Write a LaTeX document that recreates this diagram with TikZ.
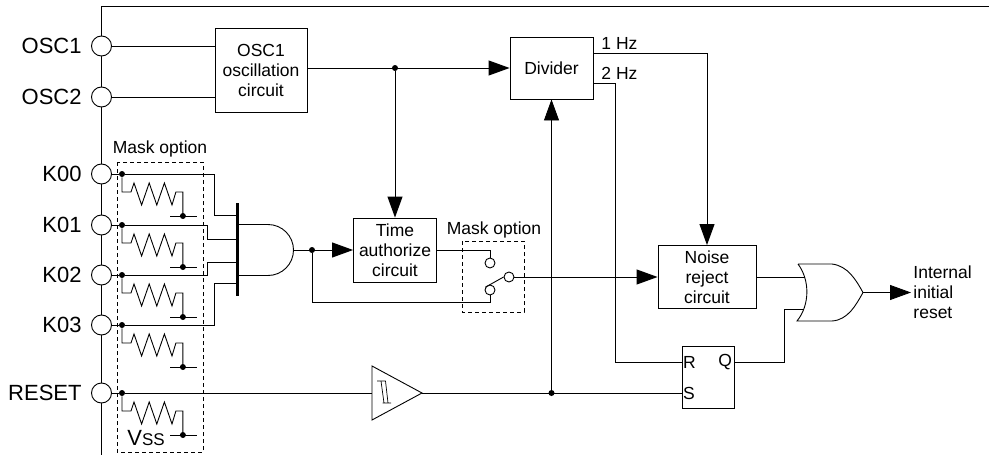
\documentclass[tikz,border=0pt]{standalone}
\usepackage{fontspec}
\setmainfont{Liberation Sans}
\usetikzlibrary{calc,positioning,arrows.meta}

\begin{document}
\begin{tikzpicture}[x=1pt, y=-1pt, line width=0.9pt, font=\fontsize{17.5}{20}\selectfont]
\tikzstyle{blk}=[draw, rectangle, inner sep = 0pt, align=center]
\tikzstyle{pad}=[draw, circle, fill=white, minimum size=20pt, inner sep = 0pt]
\tikzstyle{sw}=[draw, circle, fill=white, minimum size=10pt, inner sep = 0pt]
\tikzstyle{dot}=[fill, circle, minimum size=6pt, inner sep = 0pt]
\tikzstyle{arr}=[-{Triangle[length=21pt, width=15pt]}]
\tikzstyle{msk}=[draw, dash pattern=on 4pt off 3pt]
\useasboundingbox (0,0) rectangle (989,455);

% bus and pins
\draw (989,6) -| (101.5,455);
\foreach \n/\y in {OSC1/46, OSC2/97, K00/174, K01/225, K02/275, K03/325, RESET/393}{
  \node[pad] (\n) at (101.5,\y) {};
  \node[anchor=east, inner sep=0pt, font=\fontsize{22}{22}\selectfont] (l\n) at (82,\y) {\n};
}

% pull-down resistors
\foreach \n/\y in {K00/174, K01/225, K02/275, K03/325, RESET/393}{
  \node[dot] (d\n) at (122,\y) {};
  \draw (\n.east) -- (d\n);
  \draw (d\n) -- ++(0,18) -- ++(9,0) -- ++(3,-9) -- ++(7.6,22) -- ++(7.6,-22) -- ++(7.6,22)
    -- ++(7.6,-22) -- ++(7.6,22) -- ++(3.9,-13) -- ++(7,0) -- ++(0,24) node[dot] (g\n) {};
  \draw (170,\y+42) -- (197,\y+42);
}
\draw[msk] (117,162) rectangle (203,452);
\node (m1) at (160,149) {Mask option};
\node[anchor=base west, inner sep=0pt] (vss) at (127,445) {\fontsize{22}{22}\selectfont V\fontsize{17}{17}\selectfont SS};

% blocks
\node[blk, minimum width=92pt, minimum height=84pt] (OSC) at (261,70) {OSC1\\oscillation\\circuit};
\node[blk, minimum width=83pt, minimum height=62pt] (DIV) at (551.5,68) {Divider};
\node[blk, minimum width=83pt, minimum height=64pt] (TA) at (395,250) {Time\\authorize\\circuit};
\node[blk, minimum width=98pt, minimum height=63pt] (NR) at (707,277) {Noise\\reject\\circuit};
\node[blk, minimum width=52pt, minimum height=62pt] (RS) at (708,377) {};
\node[anchor=west, inner sep=1pt] (R) at (RS.west |- 0,362) {R};
\node[anchor=east, inner sep=2pt] (Q) at (RS.east |- 0,362) {Q};
\node[anchor=west, inner sep=1pt] (S) at (RS.west |- 0,393) {S};

% oscillator and divider
\draw (OSC1.east) -- (OSC1.east -| OSC.west);
\draw (OSC2.east) -- (OSC2.east -| OSC.west);
\node[dot] (j1) at (395,68) {};
\draw[arr] (OSC.east |- j1) -- (DIV.west);
\draw[arr] (j1) -- (TA.north);
\coordinate (h1) at (593.5,53);
\coordinate (h2) at (593.5,83);
\node[anchor=base west, inner sep=0pt] (f1) at (601,49) {1 Hz};
\node[anchor=base west, inner sep=0pt] (f2) at (601,79) {2 Hz};
\draw[arr] (h1) -| (NR.north);
\draw (h2) -| (615,362) -- (RS.west |- R);

% AND gate
\coordinate (a1) at (237,215);
\coordinate (a2) at (237,239);
\coordinate (a3) at (237,262);
\coordinate (a4) at (237,283);
\coordinate (ao) at (293.5,250);
\draw[line width=3pt] (237,203) -- (237,296);
\draw (237,224.5) -- (268,224.5) arc[start angle=90, end angle=-90, radius=25.5pt] -- (237,275.5);
\draw (dK00) -- (214,174) |- (a1);
\draw (dK01) -- (207,225) |- (a2);
\draw (dK02) -- (207,275) |- (a3);
\draw (dK03) -- (214,325) |- (a4);
\draw[arr] (ao) -- (TA.west);
\node[dot] (j2) at (312,250) {};

% mask option switch
\node[sw] (s1) at (490,263) {};
\node[sw] (s2) at (490,290) {};
\node[sw] (s3) at (509,277) {};
\draw (TA.east) -| (s1.north);
\draw (j2) |- (490,302) -- (s2.south);
\draw (s2.150) -- (s3.west);
\draw[arr] (s3.east) -- (NR.west);
\draw[msk] (462,241) rectangle (524,312);
\node (m2) at (494,230) {Mask option};

% RESET path with Schmitt buffer
\coordinate (bi) at (372,393);
\coordinate (bo) at (422,393);
\draw (372,366) -- (bo) -- (372,420) -- cycle;
\draw[line width=0.7pt] (377,381) -- (385.5,381) (381,381) -- (384,403) (385.5,381) -- (388,403) (382.5,403) -- (391,403);
\draw (dRESET) -- (bi);
\draw (bo) -- (S.west);
\node[dot] (j3) at (551.5,393) {};
\draw[arr] (j3) -- (DIV.south);

% OR gate and output
\coordinate (or1) at (805,277);
\coordinate (or2) at (804,309);
\coordinate (oo) at (863,292.5);
\draw (798,264) -- (832,264) .. controls (848,266) and (856,280) .. (oo)
  .. controls (856,305) and (848,320) .. (832,321) -- (797,321)
  .. controls (810,305) and (810,280) .. (798,264);
\draw (NR.east) -- (or1);
\draw (RS.east |- Q) -| (784,309) -- (or2);
\node[anchor=west, align=left, inner sep=2pt] (out) at (911,292.5) {Internal\\initial\\reset};
\draw[arr] (oo) -- (out.west);
\end{tikzpicture}
\end{document}
